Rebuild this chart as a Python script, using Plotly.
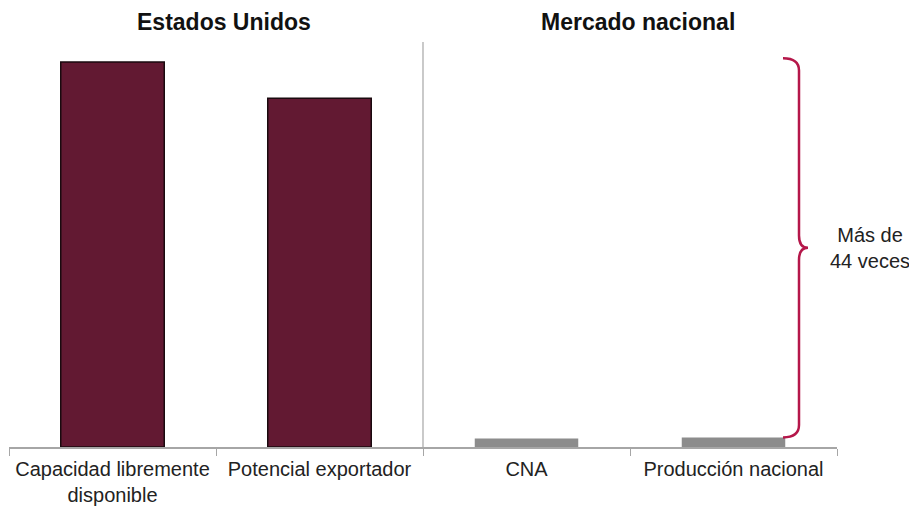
import plotly.graph_objects as go

categories = ["Capacidad libremente<br>disponible", "Potencial exportador", "CNA", "Producción nacional"]
values = [100, 90.6, 2.2, 2.5]
colors = ["#621932", "#621932", "#8c8c8c", "#8c8c8c"]
outline = ["#1a0a0f", "#1a0a0f", "rgba(0,0,0,0)", "rgba(0,0,0,0)"]
group_titles = ["Estados Unidos", "Mercado nacional"]
brace_label = "Más de<br>44 veces"

W, H = 917, 508
ml, mr, mt, mb = 1, 88, 34, 69
plot_w = W - ml - mr
ymax = values[0] * 405 / 385

fig = go.Figure()
fig.add_trace(go.Bar(
    x=categories, y=values, width=0.5,
    marker=dict(color=colors, line=dict(color=outline, width=[1.5, 1.5, 0, 0])),
    hoverinfo="skip",
))

# brace from production value to top of largest bar
ytop = values[0] + 1
ybot = values[3]
ymid = (ytop + ybot) / 2
cu = 3.2  # curve height in y units
def px(p):
    return (p - 9) / plot_w
x0, x1, x2 = px(783), px(799), px(808)
path = (f"M {x0},{ytop} Q {x1},{ytop} {x1},{ytop-cu} L {x1},{ymid+cu} "
        f"Q {x1},{ymid} {x2},{ymid} Q {x1},{ymid} {x1},{ymid-cu} "
        f"L {x1},{ybot+cu} Q {x1},{ybot} {x0},{ybot}")
fig.add_shape(type="path", path=path, xref="paper", yref="y",
              line=dict(color="#b5174a", width=2.5))

# divider between groups
fig.add_shape(type="line", xref="x", yref="paper", x0=1.5, x1=1.5, y0=0, y1=1,
              line=dict(color="#a6a6a6", width=1.2))

fig.add_annotation(x=px(870), y=ymid, xref="paper", yref="y", text=brace_label,
                   xanchor="center", yanchor="middle",
                   showarrow=False, font=dict(size=20, color="#222"), align="center")

for i, t in enumerate(group_titles):
    fig.add_annotation(x=0.5 + 2 * i, y=1.0, xref="x", yref="paper", yanchor="bottom",
                       xanchor="center", yshift=5, xshift=8, text=f"<b>{t}</b>",
                       showarrow=False, font=dict(size=23, color="#111"))

fig.update_layout(
    width=W, height=H, margin=dict(l=ml, r=mr, t=mt, b=mb),
    plot_bgcolor="white", paper_bgcolor="white", showlegend=False,
    font=dict(family="Liberation Sans, Arial, sans-serif", color="#222"),
    bargap=0.5,
)
fig.update_xaxes(showline=True, linecolor="#a6a6a6", linewidth=1.5, ticks="outside",
                 tickson="boundaries", ticklen=7, tickcolor="#a6a6a6", tickwidth=1.2,
                 tickfont=dict(size=20, color="#222"), range=[-0.5, 3.5], showgrid=False,
                 ticklabelstandoff=3, automargin=False)
fig.update_yaxes(visible=False, range=[0, ymax])

fig.write_html("out.html")
